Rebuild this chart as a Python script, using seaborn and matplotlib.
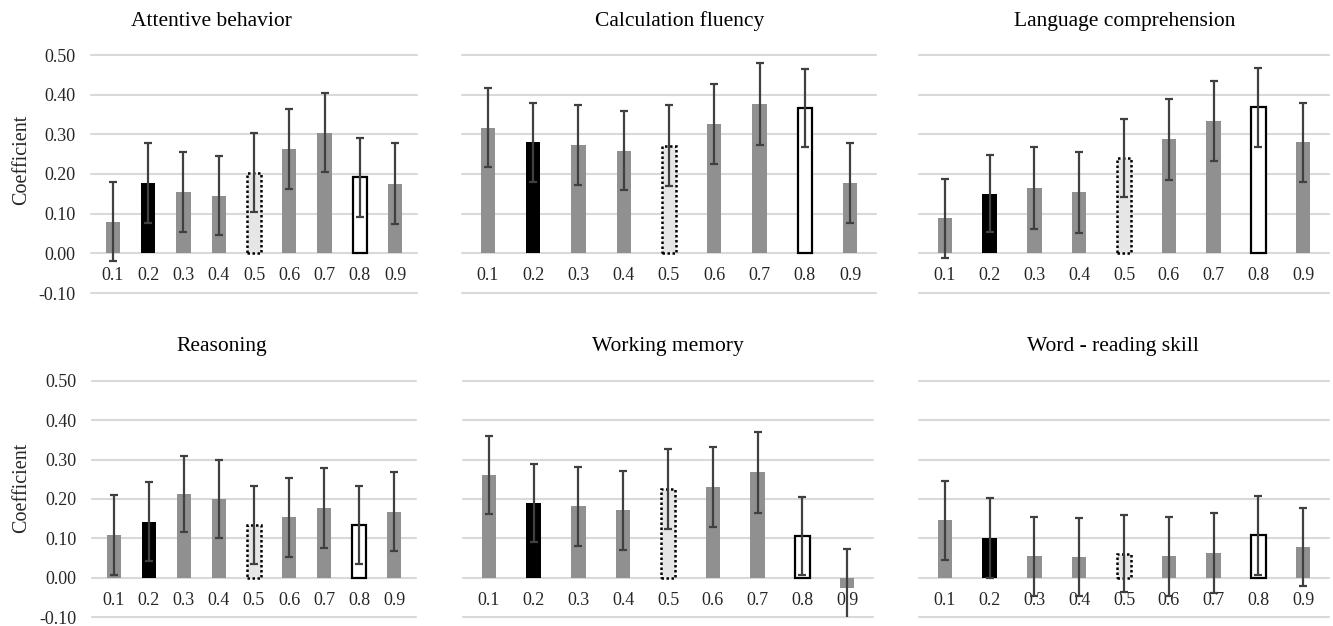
import numpy as np
import pandas as pd
import matplotlib
matplotlib.use("Agg")
import matplotlib.pyplot as plt
import seaborn as sns

# quantile levels on the x axis
quantiles = ["0.1", "0.2", "0.3", "0.4", "0.5", "0.6", "0.7", "0.8", "0.9"]

# coefficients, with half-width of the error bars
attentive = [0.080, 0.178, 0.154, 0.145, 0.203, 0.263, 0.304, 0.192, 0.176]
attentive_err = [0.100, 0.101, 0.101, 0.100, 0.100, 0.101, 0.099, 0.100, 0.103]
calculation = [0.317, 0.280, 0.273, 0.259, 0.271, 0.326, 0.377, 0.366, 0.178]
calculation_err = [0.099, 0.100, 0.100, 0.100, 0.102, 0.100, 0.104, 0.099, 0.101]
language = [0.088, 0.150, 0.164, 0.154, 0.240, 0.287, 0.333, 0.368, 0.280]
language_err = [0.100, 0.097, 0.103, 0.102, 0.099, 0.101, 0.101, 0.099, 0.100]
reasoning = [0.108, 0.142, 0.212, 0.200, 0.134, 0.153, 0.177, 0.134, 0.168]
reasoning_err = [0.101, 0.100, 0.097, 0.100, 0.100, 0.100, 0.101, 0.100, 0.100]
working = [0.261, 0.190, 0.181, 0.171, 0.226, 0.231, 0.268, 0.106, -0.027]
working_err = [0.100, 0.099, 0.100, 0.100, 0.102, 0.102, 0.103, 0.099, 0.099]
word = [0.146, 0.101, 0.054, 0.052, 0.061, 0.054, 0.063, 0.108, 0.079]
word_err = [0.101, 0.102, 0.100, 0.099, 0.098, 0.100, 0.102, 0.100, 0.099]

titles = ["Attentive behavior", "Calculation fluency", "Language comprehension",
          "Reasoning", "Working memory", "Word - reading skill"]
panels = [(attentive, attentive_err), (calculation, calculation_err), (language, language_err),
          (reasoning, reasoning_err), (working, working_err), (word, word_err)]

yticks = [-0.10, 0.00, 0.10, 0.20, 0.30, 0.40, 0.50]

GRAY = "#909090"
bar_colors = {q: GRAY for q in quantiles}
bar_colors["0.2"] = "black"
bar_colors["0.5"] = "#e6e6e6"
bar_colors["0.8"] = "white"

sns.set_theme(style="whitegrid")
plt.rcParams['font.family'] = ['Liberation Serif', 'DejaVu Serif']

W, H = 1333, 626
fig = plt.figure(figsize=(W / 100, H / 100), dpi=100)

# axes boxes in pixels: left, right, top(0.50), bottom(-0.10)
boxes = [(91, 417, 55, 293), (462, 876, 55, 293), (919, 1329, 55, 293),
         (92, 416, 381, 617), (463, 873, 381, 617), (919, 1329, 381, 617)]
title_pos = [(211, 26), (680, 26), (1125, 26), (222, 351), (668, 351), (1113, 351)]

for i, ((coef, err), box) in enumerate(zip(panels, boxes)):
    l, r, t, b = box
    ax = fig.add_axes([l / W, 1 - b / H, (r - l) / W, (b - t) / H])
    df = pd.DataFrame({"q": quantiles, "coef": coef})
    width = 14.5 / ((r - l) / 9)
    sns.barplot(data=df, x="q", y="coef", hue="q", palette=bar_colors, legend=False,
                width=width, saturation=1, ax=ax, linewidth=0)

    for j, cont in enumerate(ax.containers):
        for p in cont:
            if quantiles[j] == "0.5":
                p.set_edgecolor("black")
                p.set_linestyle((0, (1, 1)))
                p.set_linewidth(1.8)
            elif quantiles[j] == "0.8":
                p.set_edgecolor("black")
                p.set_linewidth(1.6)

    ax.errorbar(np.arange(len(quantiles)), coef, yerr=err, fmt="none", ecolor="#404040",
                elinewidth=1.6, capsize=3, capthick=1.6, zorder=3)

    ax.set_ylim(-0.10, 0.50)
    ax.set_yticks(yticks)
    ax.set_yticklabels([f"{v:.2f}" for v in yticks])
    ax.grid(axis="x", visible=False)
    ax.grid(axis="y", color="#d9d9d9", linewidth=1.5)
    for gl in ax.get_ygridlines():
        gl.set_clip_on(False)
    for s in ax.spines.values():
        s.set_visible(False)
    ax.spines["bottom"].set_position(("data", 0))
    ax.set_xlabel("")
    ax.set_ylabel("")
    ax.tick_params(axis="x", length=0, pad=10, labelsize=13, labelcolor="#262626")
    ax.tick_params(axis="y", length=0, pad=11, labelsize=13, labelcolor="#262626")
    if i % 3 != 0:
        ax.tick_params(axis="y", labelleft=False)

    tx, ty = title_pos[i]
    fig.text(tx / W, 1 - ty / H, titles[i], ha="center", va="baseline", fontsize=15.5, color="black")

fig.text(22 / W, 1 - 160 / H, "Coefficient", rotation=90, ha="center", va="center", fontsize=14.5)
fig.text(22 / W, 1 - 488 / H, "Coefficient", rotation=90, ha="center", va="center", fontsize=14.5)

fig.savefig("out.png", dpi=100)
